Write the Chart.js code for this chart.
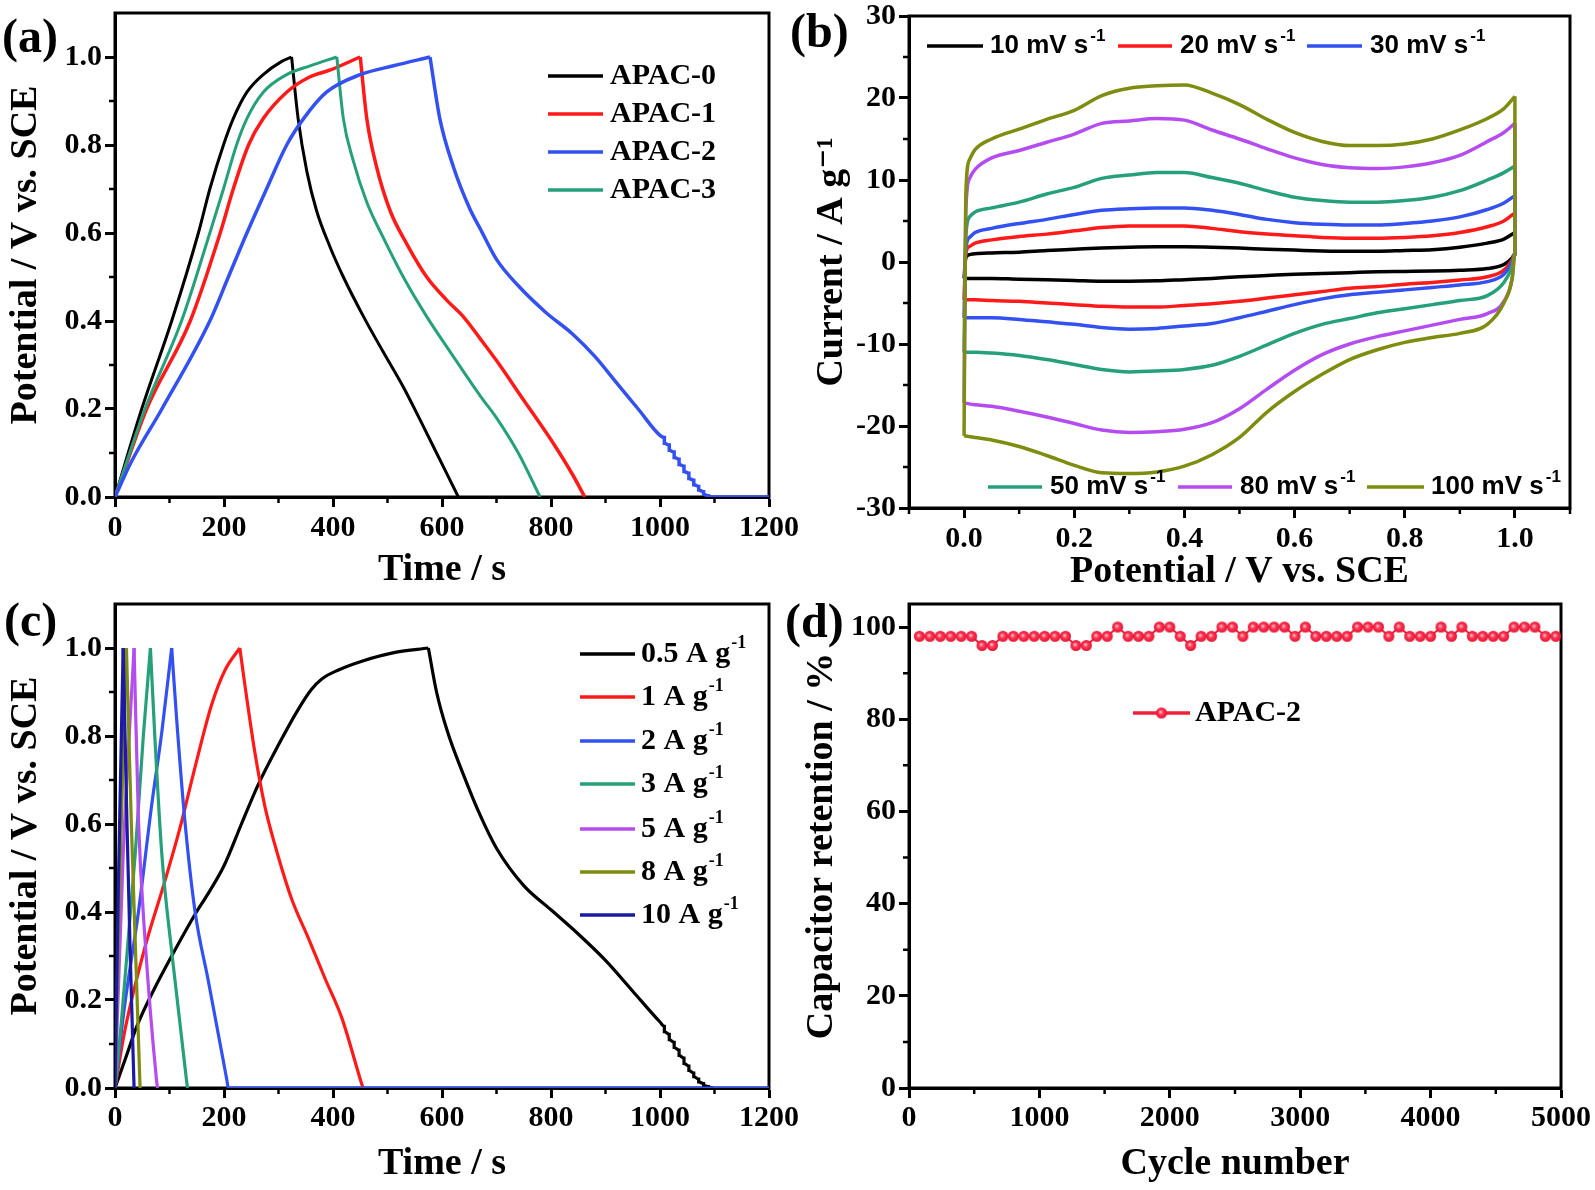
<!DOCTYPE html>
<html><head><meta charset="utf-8">
<script src="https://cdn.jsdelivr.net/npm/chart.js@4.4.1/dist/chart.umd.min.js"></script>
<style>
html,body{margin:0;padding:0;background:#fff;}
#wrap{position:relative;width:1595px;height:1190px;overflow:hidden;background:#fff;}
canvas{position:absolute;}
</style></head><body>
<div id="wrap">
<canvas id="ca" width="810" height="595" style="left:0px;top:0px"></canvas>
<canvas id="cb" width="815" height="595" style="left:780px;top:0px"></canvas>
<canvas id="cc" width="810" height="595" style="left:0px;top:595px"></canvas>
<canvas id="cd" width="815" height="595" style="left:780px;top:595px"></canvas>
</div>
<script>
// ================= DATA =================
// (a) GCD curves of the four samples
const aNames = ['APAC-0', 'APAC-1', 'APAC-2', 'APAC-3'];
const a0Time = [0,49,104,153,174,199,217,242,272,306,324,336,352,370,394,419,456,492,529,566,602,630];
const a0Volt = [0,0.2,0.4,0.6,0.7,0.8,0.86,0.92,0.96,0.99,1.0,0.86,0.74,0.65,0.57,0.5,0.41,0.33,0.25,0.16,0.07,0];
const a1Time = [0,58,138,193,217,245,272,315,358,394,450,462,480,505,535,572,609,639,670,700,750,800,840,862];
const a1Volt = [0,0.2,0.4,0.6,0.7,0.8,0.86,0.92,0.955,0.97,1.0,0.86,0.75,0.65,0.576,0.5,0.447,0.41,0.36,0.31,0.22,0.13,0.05,0];
const a2Time = [0,30,86,174,208,242,278,315,346,388,450,511,578,596,621,651,670,700,740,790,840,880,920,960,1000,1008,1008,1017,1017,1026,1026,1035,1035,1044,1044,1053,1053,1062,1062,1071,1071,1080,1080,1089,1089,1097,1200];
const a2Volt = [0,0.08,0.2,0.4,0.5,0.6,0.7,0.8,0.86,0.92,0.96,0.98,1.0,0.86,0.75,0.655,0.61,0.54,0.48,0.42,0.37,0.32,0.26,0.2,0.14,0.135,0.122,0.118,0.106,0.102,0.09,0.086,0.074,0.07,0.058,0.054,0.042,0.038,0.028,0.024,0.016,0.012,0.006,0.003,0.001,0,0];
const a3Time = [0,55,122,174,199,223,242,272,315,358,407,419,437,462,492,529,572,615,670,700,740,780];
const a3Volt = [0,0.2,0.4,0.6,0.7,0.8,0.86,0.92,0.96,0.98,1.0,0.86,0.765,0.67,0.59,0.5,0.41,0.33,0.23,0.18,0.1,0];

// (b) CV curves at six scan rates
const cvNames = ['10 mV s', '20 mV s', '30 mV s', '50 mV s', '80 mV s', '100 mV s'];
const cvPotUp = [0,0.003,0.01,0.02,0.05,0.1,0.15,0.2,0.25,0.3,0.35,0.4,0.45,0.5,0.55,0.6,0.65,0.7,0.75,0.8,0.85,0.9,0.95,0.98,1.0];
const cvPotDown = [1.0,0.995,0.98,0.95,0.9,0.85,0.8,0.75,0.7,0.65,0.6,0.55,0.5,0.45,0.4,0.35,0.3,0.25,0.2,0.15,0.1,0.05,0.02,0.0];
const cv10Up = [-2.0,0.5,0.9,1.0,1.1,1.2,1.4,1.55,1.7,1.8,1.85,1.85,1.8,1.7,1.55,1.45,1.35,1.3,1.3,1.4,1.5,1.8,2.3,2.8,3.6];
const cv10Down = [1,0.5,-0.3,-0.8,-1.0,-1.1,-1.15,-1.2,-1.3,-1.4,-1.5,-1.65,-1.8,-2.0,-2.15,-2.3,-2.35,-2.35,-2.25,-2.15,-2.1,-2.0,-2.0,-2.0];
const cv20Up = [-4.6,1.0,1.9,2.3,2.7,3.1,3.4,3.8,4.2,4.4,4.4,4.4,4.1,3.7,3.4,3.2,3.0,2.9,2.9,3.0,3.2,3.6,4.3,5.0,6.0];
const cv20Down = [1,0.3,-1.0,-1.8,-2.2,-2.5,-2.7,-3.0,-3.2,-3.6,-4.0,-4.4,-4.8,-5.1,-5.3,-5.5,-5.5,-5.4,-5.2,-5.0,-4.8,-4.7,-4.6,-4.6];
const cv30Up = [-6.8,1.5,3.0,3.6,4.1,4.7,5.2,5.8,6.3,6.5,6.6,6.6,6.3,5.8,5.2,4.8,4.6,4.5,4.5,4.7,5.0,5.5,6.4,7.2,8.1];
const cv30Down = [1,0,-1.5,-2.4,-2.8,-3.1,-3.4,-3.7,-4.0,-4.5,-5.2,-6.0,-6.8,-7.5,-7.8,-8.1,-8.2,-8.0,-7.6,-7.3,-7.0,-6.8,-6.8,-6.8];
const cv50Up = [-11.0,3,5.5,6.1,6.6,7.3,8.3,9.1,10.2,10.6,10.9,10.9,10.3,9.6,8.7,7.9,7.5,7.3,7.3,7.5,7.9,8.7,10.0,10.9,11.7];
const cv50Down = [1,-0.5,-2.5,-4.1,-4.7,-5.2,-5.7,-6.2,-6.9,-7.6,-8.7,-10.1,-11.5,-12.6,-13.1,-13.3,-13.4,-13.1,-12.5,-11.9,-11.4,-11.1,-11.0,-11.0];
const cv80Up = [-17.2,6,10.2,11.3,12.7,13.6,14.6,15.6,16.9,17.2,17.5,17.3,16.1,15.0,13.8,12.7,11.9,11.5,11.4,11.6,12.1,13.0,14.7,15.8,16.9];
const cv80Down = [1,-2,-4.8,-6.3,-7.0,-7.7,-8.4,-9.1,-10.0,-11.3,-13.2,-15.5,-17.9,-19.6,-20.4,-20.7,-20.8,-20.5,-19.7,-18.9,-18.2,-17.6,-17.4,-17.2];
const cv100Up = [-21.2,8,12.5,13.7,15.0,16.2,17.4,18.5,20.3,21.2,21.5,21.6,20.6,19.2,17.4,15.8,14.7,14.2,14.2,14.4,15.0,16.1,17.5,18.7,20.2];
const cv100Down = [1,-2,-5,-7.6,-8.7,-9.2,-9.8,-10.7,-11.9,-13.7,-15.8,-18.3,-21.4,-23.5,-24.9,-25.6,-25.8,-25.7,-24.8,-23.6,-22.5,-21.7,-21.4,-21.2];

// (c) GCD of APAC-2 at different current densities
const cNames = ['0.5 A g', '1 A g', '2 A g', '3 A g', '5 A g', '8 A g', '10 A g'];
const c0Time = [0,20,40,70,104,147,170,200,232,263,300,336,360,380,410,453,514,575,590,610,640,670,700,750,800,850,900,950,1000,1008,1008,1017,1017,1026,1026,1035,1035,1044,1044,1053,1053,1062,1062,1071,1071,1080,1080,1089,1089,1098];
const c0Volt = [0,0.07,0.14,0.22,0.3,0.395,0.44,0.505,0.6,0.69,0.78,0.86,0.905,0.93,0.95,0.97,0.99,1.0,0.9,0.81,0.71,0.62,0.545,0.46,0.405,0.35,0.29,0.22,0.15,0.14,0.128,0.122,0.11,0.104,0.092,0.086,0.074,0.068,0.056,0.05,0.04,0.034,0.026,0.02,0.014,0.01,0.006,0.003,0.001,0];
const c1Time = [0,18,55,89,119,147,177,202,229,239,257,275,294,324,355,385,416,450,455];
const c1Volt = [0,0.13,0.32,0.46,0.59,0.73,0.87,0.95,1.0,0.91,0.76,0.64,0.55,0.43,0.34,0.25,0.16,0.02,0];
const c2Time = [0,18,43,67,86,104,113,128,147,171,205,208,1200];
const c2Volt = [0,0.19,0.4,0.64,0.81,1.0,0.84,0.61,0.4,0.245,0.02,0,0];
const c3Time = [0,12,37,52,65,73,86,104,131,133];
const c3Volt = [0,0.155,0.53,0.8,1.0,0.8,0.53,0.31,0.02,0];
const c4Time = [0,15,35,43,55,76,78];
const c4Volt = [0,0.53,1.0,0.61,0.34,0.02,0];
const c5Time = [0,8,21,30,38,46];
const c5Volt = [0,0.45,1.0,0.6,0.3,0];
const c6Time = [0,6,15,22,28,35];
const c6Volt = [0,0.45,1.0,0.6,0.3,0];

// (d) cycling stability of APAC-2
const dName = 'APAC-2';
const dCycles = [80,160,240,320,400,480,560,640,720,800,880,960,1040,1120,1200,1280,1360,1440,1520,1600,1680,1760,1840,1920,2000,2080,2160,2240,2320,2400,2480,2560,2640,2720,2800,2880,2960,3040,3120,3200,3280,3360,3440,3520,3600,3680,3760,3840,3920,4000,4080,4160,4240,4320,4400,4480,4560,4640,4720,4800,4880,4960];
const dRetention = [98,98,98,98,98,98,96,96,98,98,98,98,98,98,98,96,96,98,98,100,98,98,98,100,100,98,96,98,98,100,100,98,100,100,100,100,98,100,98,98,98,98,100,100,100,98,100,98,98,98,100,98,100,98,98,98,98,100,100,100,98,98];

// tick values
const gcdXMajor = [0,200,400,600,800,1000,1200];
const gcdXMinor = [100,300,500,700,900,1100];
const gcdYMajor = [0,0.2,0.4,0.6,0.8,1.0];
const gcdYMinor = [0.1,0.3,0.5,0.7,0.9];
const cvXMajor = [0,0.2,0.4,0.6,0.8,1.0];
const cvXMinor = [-0.1,0.1,0.3,0.5,0.7,0.9,1.1];
const cvYMajor = [-30,-20,-10,0,10,20,30];
const cvYMinor = [-25,-15,-5,5,15,25];
const dXMajor = [0,1000,2000,3000,4000,5000];
const dXMinor = [500,1500,2500,3500,4500];
const dYMajor = [0,20,40,60,80,100];
const dYMinor = [10,30,50,70,90];

// ================= STYLE / HELPERS =================
const SERIF = "'Liberation Serif', 'Times New Roman', 'DejaVu Serif', serif";
const SANS = "'Liberation Sans', Arial, 'DejaVu Sans', sans-serif";
const COL = {black:'#000000', red:'#FF1A1A', blue:'#3350F0', green:'#26A07A', purple:'#B44CF0', olive:'#7E8C10', navy:'#1A1AA5'};
const pts = (xs, ys) => xs.map((x, i) => ({x: x, y: ys[i]}));

function makeBall(r) {
  const c = document.createElement('canvas');
  const s = Math.ceil(r * 2) + 2;
  c.width = s; c.height = s;
  const g = c.getContext('2d');
  const cx = s / 2, cy = s / 2;
  const grad = g.createRadialGradient(cx - r * 0.2, cy - r * 0.2, r * 0.05, cx, cy, r);
  grad.addColorStop(0, '#FFC8D2');
  grad.addColorStop(0.4, '#FF3A58');
  grad.addColorStop(1, '#E4102E');
  g.fillStyle = grad;
  g.beginPath(); g.arc(cx, cy, r, 0, Math.PI * 2); g.fill();
  return c;
}
const ball = makeBall(5.5);

function axis(o) {
  return {
    type: 'linear', min: o.min, max: o.max,
    afterBuildTicks: s => { s.ticks = o.major.map(v => ({value: v})); },
    afterFit: s => {
      if (o.width != null) s.width = o.width;
      if (o.height != null) s.height = o.height;
      s.paddingLeft = 0; s.paddingRight = 0; s.paddingTop = 0; s.paddingBottom = 0;
    },
    grid: {display: true, drawOnChartArea: false, drawTicks: true, tickLength: 10, tickWidth: 3, tickColor: '#000'},
    border: {display: true, width: 3, color: '#000'},
    ticks: {autoSkip: false, maxRotation: 0, minRotation: 0, padding: o.pad, color: '#000',
            font: {family: SERIF, weight: 'bold', size: 30}, callback: o.fmt},
    title: {display: true, text: o.title, color: '#000', padding: o.tpad,
            font: {family: SERIF, weight: 'bold', size: 38}}
  };
}

const deco = {};
const decoPlugin = {
  id: 'deco',
  beforeDatasetsDraw(chart) {
    const d = deco[chart.canvas.id]; if (!d) return;
    const ctx = chart.ctx, a = chart.chartArea;
    const xs = chart.scales.x, ys = chart.scales.y;
    ctx.save();
    ctx.strokeStyle = '#000'; ctx.lineWidth = 3;
    ctx.strokeRect(a.left, a.top, a.right - a.left, a.bottom - a.top);
    ctx.lineWidth = 2.5;
    ctx.beginPath();
    d.minorX.forEach(v => { const p = xs.getPixelForValue(v); ctx.moveTo(p, a.bottom); ctx.lineTo(p, a.bottom + 6); });
    d.minorY.forEach(v => { const p = ys.getPixelForValue(v); ctx.moveTo(a.left, p); ctx.lineTo(a.left - 6, p); });
    ctx.stroke();
    ctx.restore();
  },
  afterDraw(chart) {
    const d = deco[chart.canvas.id]; if (!d) return;
    const ctx = chart.ctx;
    ctx.save();
    ctx.fillStyle = '#000';
    ctx.textBaseline = 'middle'; ctx.textAlign = 'left';
    ctx.font = 'bold 48px ' + SERIF;
    ctx.fillText(d.label, d.labelX, d.labelY);
    const L = d.legend;
    L.items.forEach(it => {
      const ds = chart.data.datasets[it.index];
      ctx.strokeStyle = ds.borderColor; ctx.lineWidth = L.lineWidth;
      ctx.beginPath(); ctx.moveTo(it.x1, it.y); ctx.lineTo(it.x2, it.y); ctx.stroke();
      if (L.marker) ctx.drawImage(L.marker, (it.x1 + it.x2) / 2 - L.marker.width / 2, it.y - L.marker.height / 2);
      ctx.fillStyle = '#000';
      ctx.font = L.font;
      ctx.fillText(ds.label, it.tx, it.y);
      if (L.sup) {
        const w = ctx.measureText(ds.label).width;
        ctx.font = L.supFont;
        ctx.fillText(L.sup, it.tx + w + L.supDx, it.y + L.supDy);
      }
    });
    ctx.restore();
  }
};

function lineDs(label, data, color, width, order) {
  return {label: label, data: data, borderColor: color, backgroundColor: color, borderWidth: width,
          pointRadius: 0, tension: 0.4, cubicInterpolationMode: 'monotone', fill: false, order: order};
}
// a GCD record is drawn as its charge part and its discharge part (split at the peak)
function gcdPair(label, times, volts, color, width, order) {
  let k = 0;
  volts.forEach((v, i) => { if (v > volts[k]) k = i; });
  const all = pts(times, volts);
  return [lineDs(label, all.slice(0, k + 1), color, width, order),
          lineDs(label, all.slice(k), color, width, order)];
}
// a CV loop is drawn as its anodic and its cathodic branch
function cvPair(label, up, down, color, order) {
  const upPts = pts(cvPotUp, up);
  const downPts = [upPts[upPts.length - 1]].concat(pts(cvPotDown, down));
  return [lineDs(label, upPts, color, 3.5, order), lineDs(label, downPts, color, 3.5, order)];
}

function baseOptions(pad, xAx, yAx) {
  return {
    responsive: false, devicePixelRatio: 1, animation: false, events: [],
    layout: {padding: pad},
    plugins: {legend: {display: false}, tooltip: {enabled: false}},
    scales: {x: Object.assign({position: 'bottom'}, xAx), y: Object.assign({position: 'left'}, yAx)}
  };
}

// ================= (a) =================
const aTimes = [a0Time, a1Time, a2Time, a3Time];
const aVolts = [a0Volt, a1Volt, a2Volt, a3Volt];
const aCols = [COL.black, COL.red, COL.blue, COL.green];
const aWidths = [3, 3.5, 3.5, 3];
const aOrder = [0, -1, -3, -2];
deco.ca = {
  label: '(a)', labelX: 2, labelY: 40, minorX: gcdXMinor, minorY: gcdYMinor,
  legend: {lineWidth: 3.5, font: 'bold 30px ' + SERIF,
    items: aNames.map((n, i) => ({index: 2 * i, x1: 548, x2: 603, tx: 610, y: [76, 114, 152, 190][i]}))}
};
new Chart(document.getElementById('ca'), {
  type: 'line',
  data: {datasets: [].concat(...aNames.map((n, i) => gcdPair(n, aTimes[i], aVolts[i], aCols[i], aWidths[i], aOrder[i])))},
  options: baseOptions({left: 0, right: 41, top: 13, bottom: 0},
    axis({min: 0, max: 1200, major: gcdXMajor, height: 98, pad: 3, tpad: {top: 0, bottom: 2}, title: 'Time / s', fmt: v => String(v)}),
    axis({min: 0, max: 1.1, major: gcdYMajor, width: 115, pad: 3, tpad: {top: 3, bottom: 0}, title: 'Potential / V vs. SCE', fmt: v => v.toFixed(1)})),
  plugins: [decoPlugin]
});

// ================= (b) =================
const cvUp = [cv10Up, cv20Up, cv30Up, cv50Up, cv80Up, cv100Up];
const cvDown = [cv10Down, cv20Down, cv30Down, cv50Down, cv80Down, cv100Down];
const cvCols = [COL.black, COL.red, COL.blue, COL.green, COL.purple, COL.olive];
deco.cb = {
  label: '(b)', labelX: 10, labelY: 35, minorX: cvXMinor, minorY: cvYMinor,
  legend: {lineWidth: 3.5, font: 'bold 26px ' + SANS, sup: '-1', supFont: 'bold 17px ' + SANS, supDx: 2, supDy: -10,
    items: [
      {index: 0, x1: 147, x2: 203, tx: 210, y: 46},
      {index: 2, x1: 338, x2: 392, tx: 400, y: 46},
      {index: 4, x1: 527, x2: 582, tx: 590, y: 46},
      {index: 6, x1: 208, x2: 262, tx: 270, y: 487},
      {index: 8, x1: 398, x2: 452, tx: 460, y: 487},
      {index: 10, x1: 587, x2: 644, tx: 651, y: 487}
    ]}
};
new Chart(document.getElementById('cb'), {
  type: 'line',
  data: {datasets: [].concat(...cvNames.map((n, i) => cvPair(n, cvUp[i], cvDown[i], cvCols[i], -i)))},
  options: baseOptions({left: 0, right: 25, top: 16, bottom: 0},
    axis({min: -0.1, max: 1.1, major: cvXMajor, height: 87, pad: 3, tpad: {top: 0, bottom: 0}, title: 'Potential / V vs. SCE', fmt: v => v.toFixed(1)}),
    axis({min: -30, max: 30, major: cvYMajor, width: 129, pad: 3, tpad: {top: 29, bottom: 0}, title: 'Current / A g\u207B\u00B9', fmt: v => String(Math.round(v))})),
  plugins: [decoPlugin]
});

// ================= (c) =================
const cTimes = [c0Time, c1Time, c2Time, c3Time, c4Time, c5Time, c6Time];
const cVolts = [c0Volt, c1Volt, c2Volt, c3Volt, c4Volt, c5Volt, c6Volt];
const cCols = [COL.black, COL.red, COL.blue, COL.green, COL.purple, COL.olive, COL.navy];
deco.cc = {
  label: '(c)', labelX: 4, labelY: 29, minorX: gcdXMinor, minorY: gcdYMinor,
  legend: {lineWidth: 3.5, font: 'bold 30px ' + SERIF, sup: '-1', supFont: 'bold 18px ' + SERIF, supDx: 1, supDy: -11,
    items: cNames.map((n, i) => ({index: 2 * i, x1: 580, x2: 635, tx: 641, y: [59, 102, 146, 189, 234, 277, 320][i]}))}
};
new Chart(document.getElementById('cc'), {
  type: 'line',
  data: {datasets: [].concat(...cNames.map((n, i) => gcdPair(n, cTimes[i], cVolts[i], cCols[i], 3.2, -i)))},
  options: baseOptions({left: 0, right: 41, top: 9, bottom: 0},
    axis({min: 0, max: 1200, major: gcdXMajor, height: 102, pad: 2, tpad: {top: 0, bottom: 3}, title: 'Time / s', fmt: v => String(v)}),
    axis({min: 0, max: 1.1, major: gcdYMajor, width: 115, pad: 3, tpad: {top: 3, bottom: 0}, title: 'Potential / V vs. SCE', fmt: v => v.toFixed(1)})),
  plugins: [decoPlugin]
});

// ================= (d) =================
deco.cd = {
  label: '(d)', labelX: 5, labelY: 30, minorX: dXMinor, minorY: dYMinor,
  legend: {lineWidth: 3.5, font: 'bold 30px ' + SERIF, marker: ball,
    items: [{index: 0, x1: 353, x2: 410, tx: 415, y: 118}]}
};
new Chart(document.getElementById('cd'), {
  type: 'line',
  data: {datasets: [{
    label: dName, data: pts(dCycles, dRetention), borderColor: '#F0203A', backgroundColor: '#F0203A',
    borderWidth: 2, tension: 0, fill: false, pointStyle: ball, pointRadius: 5.5
  }]},
  options: baseOptions({left: 0, right: 34, top: 9, bottom: 0},
    axis({min: 0, max: 5000, major: dXMajor, height: 102, pad: 2, tpad: {top: 0, bottom: 3}, title: 'Cycle number', fmt: v => String(v)}),
    axis({min: 0, max: 105, major: dYMajor, width: 129, pad: 3, tpad: {top: 19, bottom: 0}, title: 'Capacitor retention / %', fmt: v => String(v)})),
  plugins: [decoPlugin]
});
</script>
</body></html>
